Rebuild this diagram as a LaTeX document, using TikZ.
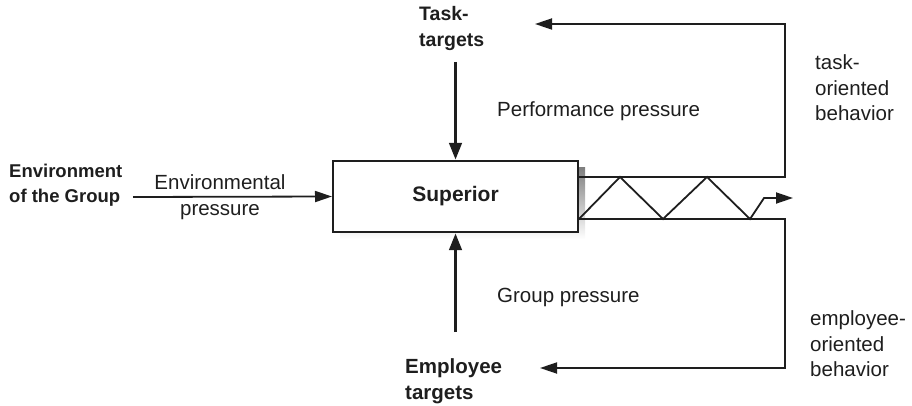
\documentclass[tikz,border=0pt]{standalone}
\usepackage{fontspec}
\setmainfont{Liberation Sans}
\usetikzlibrary{arrows.meta}
\definecolor{ink}{HTML}{1E1E1E}
\definecolor{shade}{HTML}{8A8A8A}
\begin{document}
\begin{tikzpicture}[x=1pt,y=-1pt,
  lbl/.style={inner sep=0pt,align=left,text=ink,font=\fontsize{20.5}{25.5}\selectfont},
  blbl/.style={inner sep=0pt,align=left,text=ink,font=\fontsize{19.5}{26}\selectfont\bfseries},
  thin/.style={draw=ink,line width=1.8pt},
  thinarrow/.style={thin,-{Triangle[length=17pt,width=11pt]}},
  thickarrow/.style={draw=ink,line width=3.8pt,-{Triangle[length=17pt,width=12pt]}},
  boxstyle/.style={draw=ink,line width=2pt,fill=white,minimum width=245pt,minimum height=71pt,
    inner sep=0pt,text=ink,font=\fontsize{21}{25}\selectfont\bfseries}]
  \useasboundingbox (0,0) rectangle (912,406);

  % shadow behind the central box
  \fill[shade] (340,168) rectangle (585,239);
  \node[boxstyle] (sup) at (455.5,196.5) {Superior};

  % labels
  \node[blbl,anchor=west] (task) at (419,29) {Task-\\targets};
  \node[blbl,anchor=west,font=\fontsize{20.5}{26}\selectfont\bfseries] (emp) at (405,381) {Employee\\targets};
  \node[blbl,anchor=west,font=\fontsize{18.5}{25}\selectfont\bfseries] (env) at (9,185) {Environment\\of the Group};
  \node[lbl,align=center] (envp) at (220,197) {Environmental\\pressure};
  \node[lbl,anchor=west] (perf) at (497,111) {Performance pressure};
  \node[lbl,anchor=west] (grp) at (497,297) {Group pressure};
  \node[lbl,anchor=west] (tob) at (815,88) {task-\\oriented\\behavior};
  \node[lbl,anchor=west] (eob) at (810,344) {employee-\\oriented\\behavior};

  % pressure arrows into the box
  \coordinate (topstart) at (455.5,62);
  \coordinate (botstart) at (455.5,332);
  \coordinate (envstart) at (133,197);
  \draw[thickarrow] (topstart) -- (sup.north);
  \draw[thickarrow] (botstart) -- (sup.south);
  \draw[thinarrow] (envstart) -- (sup.west);

  % behaviour channel leaving the box
  \coordinate (up0) at (sup.east |- 0,177);
  \coordinate (lo0) at (sup.east |- 0,219);
  \coordinate (upc) at (785,177);
  \coordinate (loc) at (785,219);
  \coordinate (tasktip) at (535,24);
  \coordinate (emptip) at (540,368);
  \draw[thinarrow,line join=miter] (up0) -- (upc) |- (tasktip);
  \draw[thinarrow,line join=miter] (lo0) -- (loc) |- (emptip);

  % zigzag between the two channel lines
  \coordinate (zend) at (793,198);
  \draw[thinarrow,line join=miter] (lo0) -- (620,177) -- (663,219) -- (707,177) -- (750,219) -- (764,198) -- (zend);
\end{tikzpicture}
\end{document}
